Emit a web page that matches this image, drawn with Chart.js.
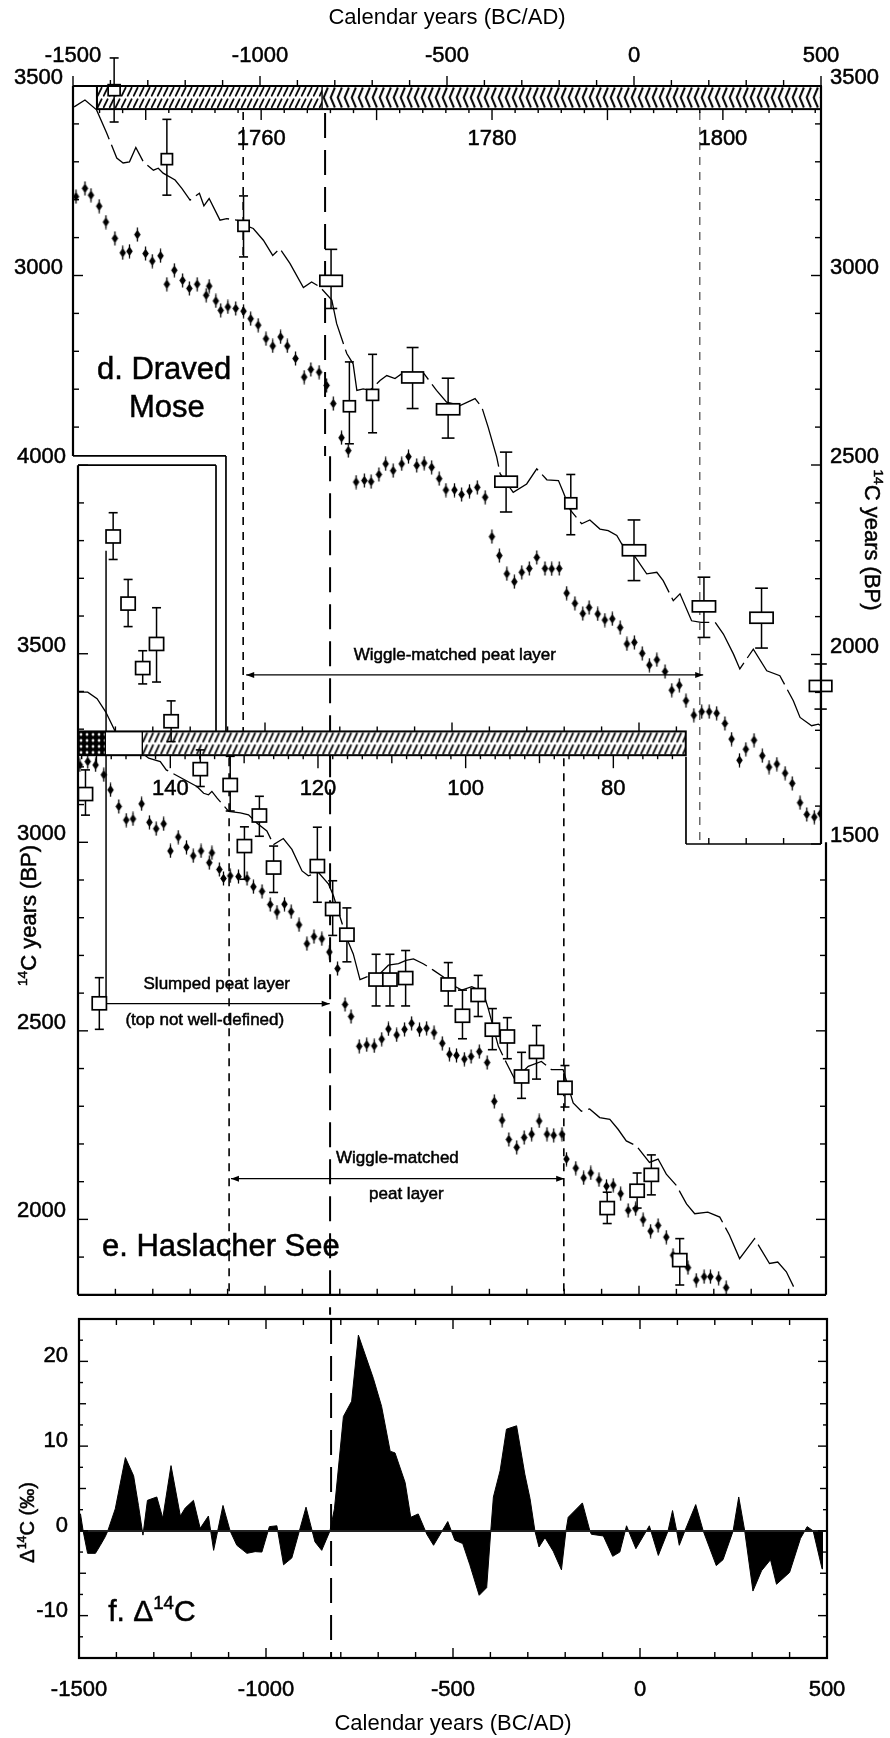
<!DOCTYPE html>
<html><head><meta charset="utf-8">
<script src="https://cdn.jsdelivr.net/npm/chart.js@4.4.1/dist/chart.umd.min.js"></script>
<style>
html,body{margin:0;padding:0;background:#fff;}
#wrap{position:relative;width:890px;height:1738px;overflow:hidden;background:#fff;}
canvas{position:absolute;left:0;}
</style></head><body>
<div id="wrap">
<canvas id="cd" width="890" height="870" style="top:0px;width:890px;height:870px"></canvas>
<canvas id="ce" width="890" height="880" style="top:440px;width:890px;height:880px"></canvas>
<canvas id="cf" width="890" height="448" style="top:1290px;width:890px;height:448px"></canvas>
</div>
<script>
const FF = "'Liberation Sans', Arial, Helvetica, sans-serif";
Chart.defaults.font.family = FF;
Chart.defaults.color = '#000';

// ---------- tick labels ----------
const calTicks = [-1500, -1000, -500, 0, 500];
const dLeftTicks = [3000, 3500];
const dRightTicks = [1500, 2000, 2500, 3000, 3500];
const eLeftTicks = [2000, 2500, 3000, 3500, 4000];
const fTicks = [-10, 0, 10, 20];
const ringTicks = [1760, 1780, 1800];
const depthTicks = [140, 120, 100, 80];

// ---------- panel d: Draved Mose ----------
const dCurveYr = [-1497,-1468,-1437,-1410,-1383,-1366,-1349,-1332,-1312,-1285,-1272,-1259,-1227,-1209,-1187,-1162,-1150,-1136,-1107,-1089,-1062,-1036,-1018,-991,-966,-947,-920,-884,-862,-840,-808,-795,-768,-751,-741,-724,-706,-679,-661,-639,-621,-594,-563,-528,-501,-465,-425,-407,-390,-367,-358,-323,-287,-260,-233,-202,-189,-171,-140,-118,-91,-69,-46,-33,-2,34,61,78,105,123,154,179,217,239,266,283,319,355,390,426,444,475,493,500];
const dCurveBP = [3445,3463,3437,3376,3310,3297,3300,3338,3300,3278,3283,3270,3252,3230,3199,3217,3184,3203,3146,3150,3146,3131,3124,3093,3053,3071,3032,2968,2983,2970,2935,2873,2794,2767,2697,2701,2697,2723,2736,2728,2741,2743,2743,2697,2666,2657,2675,2653,2600,2521,2477,2428,2450,2490,2461,2459,2428,2382,2345,2355,2331,2327,2314,2292,2265,2213,2217,2195,2142,2160,2089,2085,2085,2054,2001,1962,2014,1957,1944,1878,1834,1812,1816,1812];
const dDiaYr = [-1492,-1468,-1452,-1430,-1412,-1388,-1367,-1349,-1328,-1306,-1288,-1266,-1249,-1229,-1207,-1189,-1168,-1144,-1136,-1118,-1105,-1086,-1065,-1044,-1025,-1005,-984,-966,-945,-927,-905,-882,-864,-842,-822,-804,-782,-764,-743,-721,-703,-682,-664,-644,-621,-603,-581,-561,-541,-521,-503,-480,-461,-440,-419,-398,-380,-360,-340,-320,-300,-280,-260,-238,-220,-200,-180,-158,-137,-120,-97,-78,-58,-37,-19,1,22,41,61,83,101,121,139,160,181,201,221,243,261,282,299,321,343,361,382,404,423,444,462,482,498];
const dDiaBP = [3208,3230,3212,3183,3141,3098,3060,3064,3108,3058,3038,3052,2977,3014,2987,2966,2977,2948,2972,2933,2908,2917,2913,2906,2886,2869,2833,2814,2838,2814,2781,2732,2752,2745,2710,2662,2572,2538,2455,2459,2456,2475,2503,2485,2503,2522,2499,2505,2494,2464,2434,2434,2422,2431,2441,2415,2311,2261,2213,2192,2217,2227,2256,2227,2226,2227,2162,2135,2108,2124,2107,2091,2094,2071,2028,2032,2003,1972,1986,1955,1906,1919,1878,1840,1849,1849,1845,1818,1777,1721,1750,1774,1733,1703,1711,1687,1660,1609,1578,1571,1580];
const dSqYr = [-1390,-1249,-1044,-810,-761,-699,-592,-497,-342,-169,0,187,341,499];
const dSqBP = [3489,3307,3131,2986,2655,2685,2731,2647,2456,2399,2275,2127,2097,1917];
const dSqHi = [3574,3412,3210,3069,2772,2792,2810,2729,2534,2475,2355,2204,2175,1975];
const dSqLo = [3405,3212,3049,2913,2556,2585,2649,2571,2376,2316,2195,2045,2017,1856];
const dSqSpan = [32,30,30,60,32,32,58,62,60,32,62,62,62,60];

// ---------- panel e: Haslacher See ----------
const eCurveYr = [-1500,-1474,-1449,-1426,-1400,-1311,-1280,-1264,-1182,-1164,-1151,-1142,-1128,-1097,-1066,-1044,-1022,-995,-977,-951,-928,-901,-884,-857,-830,-817,-781,-764,-746,-728,-692,-670,-643,-623,-603,-577,-550,-523,-505,-474,-447,-417,-403,-376,-354,-332,-296,-261,-234,-203,-176,-154,-132,-105,-78,-56,-34,-7,28,51,73,100,127,149,184,216,242,269,309,349,371,394,420];
const eCurveBP = [3398,3398,3381,3346,3293,3223,3214,3192,3148,3130,3126,3135,3117,3082,3078,3073,3051,3030,2994,3010,2981,2924,2911,2920,2889,2858,2744,2704,2636,2643,2652,2674,2678,2687,2691,2678,2661,2643,2625,2608,2617,2603,2559,2459,2414,2371,2406,2419,2397,2397,2309,2287,2293,2270,2265,2239,2208,2195,2151,2160,2120,2090,2041,2015,2019,2006,1958,1896,1949,1883,1887,1861,1808];
const eDiaYr = [-1495,-1474,-1453,-1431,-1413,-1391,-1371,-1353,-1330,-1309,-1291,-1271,-1253,-1232,-1210,-1192,-1171,-1149,-1142,-1122,-1111,-1093,-1071,-1048,-1031,-1008,-986,-968,-948,-930,-909,-888,-869,-848,-828,-806,-786,-770,-748,-728,-708,-688,-670,-648,-627,-608,-587,-568,-548,-526,-507,-488,-467,-449,-427,-406,-387,-366,-348,-327,-307,-287,-267,-246,-228,-206,-194,-169,-148,-129,-107,-87,-69,-49,-29,-9,11,31,51,73,91,131,153,174,191,213,233];
const eDiaBP = [3205,3214,3205,3179,3139,3095,3059,3062,3102,3053,3036,3049,2977,3014,2987,2964,2977,2946,2972,2928,2904,2911,2909,2904,2882,2870,2835,2815,2836,2816,2781,2731,2750,2744,2709,2665,2570,2538,2459,2463,2460,2478,2505,2489,2504,2520,2503,2507,2495,2467,2438,2435,2425,2432,2445,2416,2313,2263,2212,2191,2217,2226,2261,2226,2223,2226,2160,2136,2110,2123,2105,2088,2091,2068,2024,2028,1999,1969,1984,1953,1905,1872,1839,1848,1848,1844,1819];
const eSqYr = [-1480,-1443,-1406,-1366,-1327,-1290,-1251,-1173,-1093,-1055,-1015,-977,-860,-819,-781,-703,-666,-624,-510,-472,-430,-392,-352,-314,-274,-198,-85,-5,33,109];
const eSqBP = [3128,2573,3811,3633,3462,3526,3321,3194,3152,2990,3071,2933,2937,2823,2755,2636,2636,2640,2623,2540,2595,2503,2485,2379,2444,2349,2030,2076,2118,1892];
const eSqHi = [3192,2641,3874,3697,3508,3622,3375,3245,3228,3041,3122,2990,3040,2898,2826,2703,2703,2713,2681,2608,2647,2559,2535,2443,2514,2408,2072,2123,2171,1949];
const eSqLo = [3072,2504,3750,3572,3420,3425,3267,3148,3083,2902,3016,2867,2841,2753,2683,2566,2566,2566,2566,2479,2538,2450,2426,2321,2372,2298,1989,2030,2065,1826];

// ---------- panel f: Delta 14C ----------
const fYr = [-1500,-1496,-1489,-1477,-1456,-1443,-1430,-1423,-1403,-1376,-1354,-1341,-1329,-1317,-1292,-1276,-1254,-1229,-1216,-1194,-1176,-1154,-1140,-1115,-1096,-1078,-1051,-1029,-1011,-991,-971,-953,-931,-893,-869,-851,-829,-817,-793,-771,-753,-713,-691,-668,-655,-628,-613,-593,-570,-552,-514,-495,-474,-455,-430,-410,-399,-392,-374,-357,-330,-308,-294,-281,-270,-254,-232,-210,-198,-192,-154,-134,-130,-98,-73,-54,-36,-11,25,49,75,87,98,105,120,149,169,204,222,249,264,280,302,325,349,365,400,429,447,463,487,488];
const fVal = [2.0,2.0,0,-2.65,-2.65,-1.7,-0.7,0,2.6,8.65,6.5,3.0,-0.5,3.6,4.0,1.5,7.7,1.75,2.7,3.6,0.3,1.75,-2.3,3.0,0,-1.7,-2.65,-2.45,-2.5,0.5,0.6,-4.0,-3.2,2.8,-1.3,-2.3,0,2.6,13.5,15.3,23.1,18.0,14.7,9.4,9.2,5.7,1.6,2.0,-0.4,-1.7,1.1,-1.1,-1.5,-4.0,-7.6,-6.7,0,4.0,7.1,12.0,12.4,6.7,3.8,0,-1.9,-0.8,-2.4,-4.6,0,1.6,3.3,0,-0.4,-0.6,-3.0,-2.5,0.6,-2.1,0.6,-2.9,0,2.4,0,-1.7,0,3.1,0,-4.1,-3.4,0,4.0,0,-7.1,-4.7,-3.4,-6.3,-4.9,-0.9,0.5,0,-4.5,0];

// ---------- annotation anchors (data units) ----------
const eventYr = -826;
const dWiggleYr = [-1045, 176];
const eWiggleYr = [-1096, -201];

const pts = (X, Y) => X.map((x, i) => ({x: x, y: Y[i]}));

// diamond-with-error-bar marker
const diaImg = (() => {
  const c = document.createElement('canvas'); c.width = 9; c.height = 15;
  const g = c.getContext('2d');
  g.strokeStyle = '#000'; g.lineWidth = 1.3;
  g.beginPath(); g.moveTo(4.5, 0.5); g.lineTo(4.5, 14.5); g.stroke();
  g.fillStyle = '#000'; g.beginPath();
  g.moveTo(4.5, 2.8); g.lineTo(7.8, 7.5); g.lineTo(4.5, 12.2); g.lineTo(1.2, 7.5); g.closePath(); g.fill();
  return c;
})();

// ---------- drawing helpers ----------
function L(ctx, x1, y1, x2, y2, w, dash, col) {
  ctx.save(); ctx.strokeStyle = col || '#000'; ctx.lineWidth = w || 1;
  ctx.setLineDash(dash || []); ctx.beginPath(); ctx.moveTo(x1, y1); ctx.lineTo(x2, y2); ctx.stroke(); ctx.restore();
}
const mult = (v, m) => Math.abs(v / m - Math.round(v / m)) < 1e-6;
function ticksAlong(ctx, s, a, b, step, pos, dir, lenOf, horiz, lo, hi) {
  const n = Math.round((b - a) / step);
  for (let i = 0; i <= n; i++) {
    const v = a + i * step, p = s.getPixelForValue(v);
    if (lo != null && (p < lo - 0.5 || p > hi + 0.5)) continue;
    const l = lenOf(v);
    if (horiz) L(ctx, p, pos, p, pos + dir * l, 1.4); else L(ctx, pos, p, pos + dir * l, p, 1.4);
  }
}
const lenCal = v => mult(v, 500) ? 10 : 6;
const lenBP = v => mult(v, 500) ? 10 : 6;
function rich(ctx, parts, x, y, size, rot, align) {
  ctx.save(); ctx.translate(x, y); if (rot) ctx.rotate(rot);
  ctx.fillStyle = '#000'; ctx.strokeStyle = '#000'; ctx.lineWidth = 0.5;
  ctx.textAlign = 'left'; ctx.textBaseline = 'alphabetic';
  const ss = size * 0.62, ws = []; let W = 0;
  for (const [t, s] of parts) { ctx.font = (s ? ss : size) + 'px ' + FF; const w = ctx.measureText(t).width; ws.push(w); W += w; }
  let cx = align === 'left' ? 0 : (align === 'right' ? -W : -W / 2);
  const base = size * 0.36;
  parts.forEach(([t, s], i) => {
    ctx.font = (s ? ss : size) + 'px ' + FF;
    const yy = s ? base - size * 0.42 : base;
    ctx.fillText(t, cx, yy); ctx.strokeText(t, cx, yy); cx += ws[i];
  });
  ctx.restore();
}
function tri(ctx, x, y, dir) {
  ctx.save(); ctx.fillStyle = '#000'; ctx.beginPath(); ctx.moveTo(x, y);
  ctx.lineTo(x - dir * 8, y - 3); ctx.lineTo(x - dir * 8, y + 3); ctx.closePath(); ctx.fill(); ctx.restore();
}
function arrow(ctx, x1, x2, y, headL, headR) {
  L(ctx, x1, y, x2, y, 1.3);
  if (headL) tri(ctx, x1, y, -1);
  if (headR) tri(ctx, x2, y, 1);
}
function mkPat(ctx, kind, x0, y0, h) {
  const c = document.createElement('canvas'), g = c.getContext('2d');
  const H = Math.max(4, Math.round(h));
  if (kind === 'diag') {
    c.width = 6; c.height = H; g.strokeStyle = '#000'; g.lineWidth = 1.8; g.lineCap = 'round';
    const hh = H / 2;
    for (let k = 0; k < 2; k++) { g.beginPath(); g.moveTo(0.8, k * hh + hh - 1.8); g.lineTo(4.6, k * hh + 1.8); g.stroke(); }
  } else if (kind === 'chev') {
    c.width = 7; c.height = H; g.strokeStyle = '#000'; g.lineWidth = 2;
    g.beginPath(); g.moveTo(5.8, 1.5); g.lineTo(1.6, H / 2); g.lineTo(5.8, H - 1.5); g.stroke();
  } else {
    c.width = 6; c.height = 6; g.fillStyle = '#000'; g.fillRect(0, 0, 6, 6); g.fillStyle = '#fff';
    g.beginPath(); g.moveTo(3, 1.3); g.lineTo(4.7, 3); g.lineTo(3, 4.7); g.lineTo(1.3, 3); g.closePath(); g.fill();
  }
  const p = ctx.createPattern(c, 'repeat');
  p.setTransform(new DOMMatrix([1, 0, 0, 1, x0, y0]));
  return p;
}
function drawBar(ctx, sx, sy, topV, botV, segs) {
  const yT = sy.getPixelForValue(topV), yB = sy.getPixelForValue(botV), h = yB - yT;
  segs.forEach(([a, b, k]) => {
    const xa = sx.getPixelForValue(a), xb = sx.getPixelForValue(b);
    ctx.save(); ctx.fillStyle = '#fff'; ctx.fillRect(xa, yT, xb - xa, h);
    if (k !== 'none') { ctx.fillStyle = mkPat(ctx, k, xa, yT, h); ctx.fillRect(xa, yT, xb - xa, h); }
    ctx.restore();
    L(ctx, xa, yT, xa, yB, 1.4);
  });
  const x0 = sx.getPixelForValue(segs[0][0]), x1 = sx.getPixelForValue(segs[segs.length - 1][1]);
  ctx.save(); ctx.strokeStyle = '#000'; ctx.lineWidth = 2; ctx.strokeRect(x0, yT, x1 - x0, h); ctx.restore();
  return {yT, yB, x0, x1};
}
function drawSquares(ctx, sx, sy, X, Y, HI, LO, SPAN, bh) {
  for (let i = 0; i < X.length; i++) {
    const px = sx.getPixelForValue(X[i]), py = sy.getPixelForValue(Y[i]);
    const pt = sy.getPixelForValue(HI[i]), pb = sy.getPixelForValue(LO[i]);
    const w = Math.abs(sx.getPixelForValue(X[i] + SPAN[i] / 2) - sx.getPixelForValue(X[i] - SPAN[i] / 2));
    const cap = Math.max(9, w * 0.55) / 2;
    L(ctx, px, pt, px, pb, 1.5); L(ctx, px - cap, pt, px + cap, pt, 1.6); L(ctx, px - cap, pb, px + cap, pb, 1.6);
    ctx.save(); ctx.fillStyle = '#fff'; ctx.strokeStyle = '#000'; ctx.lineWidth = 1.7;
    ctx.fillRect(px - w / 2, py - bh / 2, w, bh); ctx.strokeRect(px - w / 2, py - bh / 2, w, bh); ctx.restore();
  }
}
function labelAxis(pad, off, arr, sizeFn) {
  return {
    grid: {display: false, drawTicks: false}, border: {display: false},
    afterBuildTicks: s => { s.ticks = arr.map(v => ({value: v})); },
    afterFit: sizeFn,
    ticks: {padding: pad, labelOffset: off, color: '#000', textStrokeColor: '#000', textStrokeWidth: 0.5,
      font: {size: 22, family: FF}, autoSkip: false, maxRotation: 0, minRotation: 0, callback: v => String(v)}
  };
}
const baseOpts = pad => ({
  animation: false, responsive: false, devicePixelRatio: 1, events: [],
  layout: {autoPadding: false, padding: pad},
  plugins: {legend: {display: false}, tooltip: {enabled: false}}
});

// ---------- panel d plugin ----------
const dGeom = {barTop: 3500, barBot: 3439, barSegs: [[-1436, -834, 'diag'], [-834, 500, 'chev']],
  stepBP: 2524, stepYr: -1091, eBarTopBP: 1793, eBarBotBP: 1730, cornerYr: 139,
  ringLabelBP: 3365, arrowBP: 1946, arrowYr: [-1037, 185], textYr: -479, textBP: 2001};
const dPlugin = {
  id: 'dDeco',
  afterDatasetsDraw(chart) {
    const ctx = chart.ctx, a = chart.chartArea, sx = chart.scales.x, sy = chart.scales.y, sr = chart.scales.xr;
    const g = dGeom;
    const yBarB = sy.getPixelForValue(g.barBot);
    const yStep = sy.getPixelForValue(g.stepBP), xStep = sx.getPixelForValue(g.stepYr);
    const yEB = sy.getPixelForValue(g.eBarTopBP), yEBb = sy.getPixelForValue(g.eBarBotBP);
    const xCorner = sx.getPixelForValue(g.cornerYr);
    const xe = sx.getPixelForValue(eventYr);
    L(ctx, xe, yBarB + 4, xe, yStep, 2, [25, 12]);
    const xw1 = sx.getPixelForValue(dWiggleYr[0]), xw2 = sx.getPixelForValue(dWiggleYr[1]);
    L(ctx, xw1, yBarB + 3, xw1, yEB, 1.6, [8, 7]);
    L(ctx, xw2, yBarB + 3, xw2, a.bottom, 1.1, [8, 7], '#333');
    const ya = sy.getPixelForValue(g.arrowBP);
    arrow(ctx, sx.getPixelForValue(g.arrowYr[0]), sx.getPixelForValue(g.arrowYr[1]), ya, true, true);
    rich(ctx, [['Wiggle-matched peat layer', 0]], sx.getPixelForValue(g.textYr), sy.getPixelForValue(g.textBP), 17);
    const bar = drawBar(ctx, sx, sy, g.barTop, g.barBot, g.barSegs);
    ticksAlong(ctx, sr, 1744, 1808, 2, bar.yB, 1, v => mult(v, 10) ? 11 : 4, true, bar.x0, a.right);
    ringTicks.forEach(v => rich(ctx, [[String(v), 0]], sr.getPixelForValue(v), sy.getPixelForValue(g.ringLabelBP), 22));
    drawSquares(ctx, sx, sy, dSqYr, dSqBP, dSqHi, dSqLo, dSqSpan, 11);
    L(ctx, a.left, a.top, a.right, a.top, 2.2);
    L(ctx, a.right, a.top, a.right, a.bottom, 2.2);
    L(ctx, a.left, a.top, a.left, yStep, 2.2);
    L(ctx, a.left, yStep, xStep, yStep, 1.7);
    L(ctx, xStep, yStep, xStep, yEB, 1.7);
    L(ctx, xCorner, yEBb, xCorner, a.bottom, 1.7);
    L(ctx, xCorner, a.bottom, a.right, a.bottom, 1.7);
    ticksAlong(ctx, sx, -1500, 500, 100, a.top, -1, lenCal, true);
    ticksAlong(ctx, sy, 2600, 3500, 100, a.left, 1, lenBP, false);
    ticksAlong(ctx, sy, 1500, 3500, 100, a.right, -1, lenBP, false);
    ticksAlong(ctx, sx, 200, 500, 100, a.bottom, -1, lenCal, true, xCorner, a.right);
    rich(ctx, [['d. Draved', 0]], sx.getPixelForValue(-1436), sy.getPixelForValue(2756), 31, 0, 'left');
    rich(ctx, [['Mose', 0]], sx.getPixelForValue(-1249), sy.getPixelForValue(2656), 31);
    rich(ctx, [['14', 1], ['C years (BP)', 0]], a.right + 52, sy.getPixelForValue(2302), 22, Math.PI / 2);
  }
};

new Chart(document.getElementById('cd'), {
  type: 'line',
  data: {datasets: [
    {data: pts(dCurveYr, dCurveBP), showLine: true, borderColor: '#000', borderWidth: 1.3, pointRadius: 0, borderDash: [60, 6], tension: 0},
    {data: pts(dDiaYr, dDiaBP), showLine: false, pointStyle: diaImg, pointRadius: 5}
  ]},
  options: Object.assign(baseOpts({top: 0, left: 0, right: 0, bottom: 26}), {
    scales: {
      x: Object.assign({type: 'linear', position: 'top', min: -1500, max: 500,
        title: {display: true, text: 'Calendar years (BC/AD)', color: '#000', font: {size: 22, family: FF}, padding: {top: 5, bottom: 0}}},
        labelAxis(17, 0, calTicks, s => { s.height = 86; })),
      xr: {type: 'linear', display: false, min: 1743.7, max: 1808.5},
      y: Object.assign({type: 'linear', position: 'left', min: 1500, max: 3500}, labelAxis(10, -8, dLeftTicks, s => { s.width = 73; })),
      y2: Object.assign({type: 'linear', position: 'right', min: 1500, max: 3500}, labelAxis(9, -8, dRightTicks, s => { s.width = 69; }))
    }
  }),
  plugins: [dPlugin]
});

// ---------- panel e plugin ----------
const eGeom = {innerStepYr: -1131, barTop: 3294, barBot: 3231,
  barSegs: [[-1500, -1427, 'cross'], [-1427, -1328, 'none'], [-1328, 125, 'diag']],
  depthLabelBP: 3146, slumpYr: -1425, slumpTopBP: 3773, slumpBP: 2572, slumpEndYr: -827,
  wigBP: 2108, wigYr: [-1091, -200]};
const ePlugin = {
  id: 'eDeco',
  afterDatasetsDraw(chart) {
    const ctx = chart.ctx, a = chart.chartArea, sx = chart.scales.x, sy = chart.scales.y, sd = chart.scales.xdep;
    const g = eGeom;
    const yBarT = sy.getPixelForValue(g.barTop), yBarB = sy.getPixelForValue(g.barBot);
    const xe = sx.getPixelForValue(eventYr);
    L(ctx, xe, a.top - 9, xe, a.bottom + 20, 2, [25, 12]);
    eWiggleYr.forEach(v => { const x = sx.getPixelForValue(v); L(ctx, x, yBarB + 3, x, a.bottom, 1.6, [8, 7]); });
    const xs = sx.getPixelForValue(g.slumpYr);
    L(ctx, xs, sy.getPixelForValue(g.slumpTopBP), xs, sy.getPixelForValue(g.slumpBP), 1.5);
    arrow(ctx, xs, sx.getPixelForValue(g.slumpEndYr), sy.getPixelForValue(g.slumpBP), false, true);
    rich(ctx, [['Slumped peat layer', 0]], sx.getPixelForValue(-1129), sy.getPixelForValue(2627), 17);
    rich(ctx, [['(top not well-defined)', 0]], sx.getPixelForValue(-1161), sy.getPixelForValue(2532), 17);
    arrow(ctx, sx.getPixelForValue(g.wigYr[0]), sx.getPixelForValue(g.wigYr[1]), sy.getPixelForValue(g.wigBP), true, true);
    rich(ctx, [['Wiggle-matched', 0]], sx.getPixelForValue(-646), sy.getPixelForValue(2166), 17);
    rich(ctx, [['peat layer', 0]], sx.getPixelForValue(-622), sy.getPixelForValue(2069), 17);
    const bar = drawBar(ctx, sx, sy, g.barTop, g.barBot, g.barSegs);
    ticksAlong(ctx, sx, -1400, 100, 100, bar.yT, -1, v => mult(v, 500) ? 9 : 5, true, bar.x0, bar.x1);
    ticksAlong(ctx, sd, 52, 152, 2, bar.yB, 1, v => mult(v, 20) ? 13 : (mult(v, 10) ? 8 : 4), true, bar.x0, bar.x1);
    depthTicks.forEach(v => rich(ctx, [[String(v), 0]], sd.getPixelForValue(v), sy.getPixelForValue(g.depthLabelBP), 22));
    drawSquares(ctx, sx, sy, eSqYr, eSqBP, eSqHi, eSqLo, eSqYr.map(() => 38), 13);
    const xIn = sx.getPixelForValue(g.innerStepYr);
    L(ctx, a.left, a.top, xIn, a.top, 1.7);
    L(ctx, xIn, a.top, xIn, yBarT, 1.7);
    L(ctx, a.left, a.top, a.left, a.bottom, 2.2);
    L(ctx, a.left, a.bottom, a.right, a.bottom, 2.2);
    const yR = sy.getPixelForValue(3000);
    L(ctx, a.right, yR, a.right, a.bottom, 2.2);
    ticksAlong(ctx, sy, 1800, 4000, 100, a.left, 1, lenBP, false);
    ticksAlong(ctx, sy, 1800, 2900, 100, a.right, -1, lenBP, false);
    ticksAlong(ctx, sx, -1400, 400, 100, a.bottom, -1, v => mult(v, 500) ? 9 : 6, true);
    rich(ctx, [['e. Haslacher See', 0]], sx.getPixelForValue(-1436), sy.getPixelForValue(1932), 31, 0, 'left');
    rich(ctx, [['14', 1], ['C years (BP)', 0]], a.left - 50, sy.getPixelForValue(2806), 22, -Math.PI / 2);
  }
};

new Chart(document.getElementById('ce'), {
  type: 'line',
  data: {datasets: [
    {data: pts(eCurveYr, eCurveBP), showLine: true, borderColor: '#000', borderWidth: 1.3, pointRadius: 0, borderDash: [60, 6], tension: 0},
    {data: pts(eDiaYr, eDiaBP), showLine: false, pointStyle: diaImg, pointRadius: 5}
  ]},
  options: Object.assign(baseOpts({top: 25, left: 0, right: 64, bottom: 21}), {
    scales: {
      x: {type: 'linear', display: false, min: -1500, max: 500},
      xdep: {type: 'linear', display: false, reverse: true, min: 51.2, max: 152.5},
      y: Object.assign({type: 'linear', position: 'left', min: 1800, max: 4000}, labelAxis(12, -8, eLeftTicks, s => { s.width = 78; }))
    }
  }),
  plugins: [ePlugin]
});

// ---------- panel f plugin ----------
const fPlugin = {
  id: 'fDeco',
  beforeDatasetsDraw(chart) {
    const ctx = chart.ctx, a = chart.chartArea, sx = chart.scales.x;
    const xe = sx.getPixelForValue(eventYr);
    L(ctx, xe, a.top, xe, a.bottom, 2, [25, 12]);
  },
  afterDatasetsDraw(chart) {
    const ctx = chart.ctx, a = chart.chartArea, sx = chart.scales.x, sy = chart.scales.y;
    const y0 = sy.getPixelForValue(0);
    L(ctx, a.left, y0, a.right, y0, 2, [], '#222');
    ctx.save(); ctx.strokeStyle = '#000'; ctx.lineWidth = 2.2; ctx.strokeRect(a.left, a.top, a.right - a.left, a.bottom - a.top); ctx.restore();
    const lenF = v => mult(v, 10) ? 9 : (mult(v, 5) ? 7 : 4);
    ticksAlong(ctx, sx, -1500, 500, 100, a.top, 1, lenCal, true);
    ticksAlong(ctx, sx, -1500, 500, 100, a.bottom, -1, lenCal, true);
    ticksAlong(ctx, sy, -15, 25, 2.5, a.left, 1, lenF, false);
    ticksAlong(ctx, sy, -15, 25, 2.5, a.right, -1, lenF, false);
    rich(ctx, [['f. Δ', 0], ['14', 1], ['C', 0]], sx.getPixelForValue(-1422), sy.getPixelForValue(-9.4), 30, 0, 'left');
    rich(ctx, [['Δ', 0], ['14', 1], ['C (‰)', 0]], a.left - 52, sy.getPixelForValue(1), 20, -Math.PI / 2);
  }
};

new Chart(document.getElementById('cf'), {
  type: 'line',
  data: {datasets: [
    {data: pts(fYr, fVal), showLine: true, borderColor: '#000', borderWidth: 1, backgroundColor: '#000', fill: 'origin', pointRadius: 0, tension: 0}
  ]},
  options: Object.assign(baseOpts({top: 29, left: 0, right: 63, bottom: 0}), {
    scales: {
      x: Object.assign({type: 'linear', position: 'bottom', min: -1500, max: 500,
        title: {display: true, text: 'Calendar years (BC/AD)', color: '#000', font: {size: 22, family: FF}, padding: {top: 0, bottom: 1}}},
        labelAxis(19, 0, calTicks, s => { s.height = 80; })),
      y: Object.assign({type: 'linear', position: 'left', min: -15, max: 25}, labelAxis(11, -5, fTicks, s => { s.width = 79; }))
    }
  }),
  plugins: [fPlugin]
});
</script>
</body></html>
